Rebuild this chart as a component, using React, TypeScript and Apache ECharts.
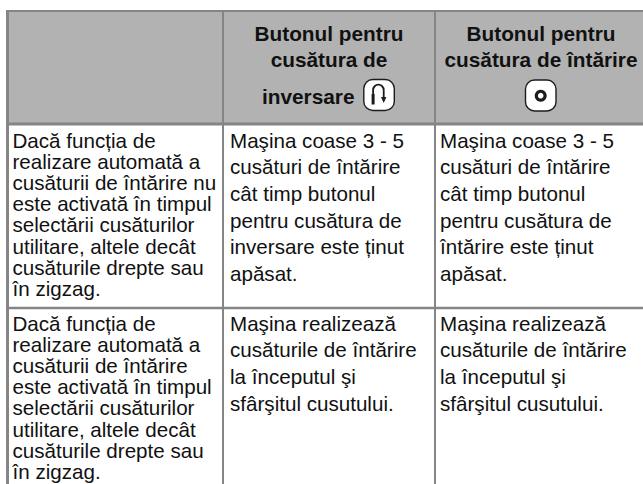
import React, { useEffect, useRef } from "react";
import * as echarts from "echarts";

const headerCol2 = ["Butonul pentru", "cusătura de"];
const headerCol2Last = "inversare";
const headerCol3 = ["Butonul pentru", "cusătura de întărire"];

const row1Col1 = ["Dacă funcția de", "realizare automată a", "cusăturii de întărire nu", "este activată în timpul", "selectării cusăturilor", "utilitare, altele decât", "cusăturile drepte sau", "în zigzag."];
const row1Col2 = ["Maşina coase 3 - 5", "cusături de întărire", "cât timp butonul", "pentru cusătura de", "inversare este ținut", "apăsat."];
const row1Col3 = ["Maşina coase 3 - 5", "cusături de întărire", "cât timp butonul", "pentru cusătura de", "întărire este ținut", "apăsat."];
const row2Col1 = ["Dacă funcția de", "realizare automată a", "cusăturii de întărire", "este activată în timpul", "selectării cusăturilor", "utilitare, altele decât", "cusăturile drepte sau", "în zigzag."];
const row2Col2 = ["Maşina realizează", "cusăturile de întărire", "la începutul şi", "sfârşitul cusutului."];
const row2Col3 = ["Maşina realizează", "cusăturile de întărire", "la începutul şi", "sfârşitul cusutului."];

const FONT = '"Liberation Sans", Arial, sans-serif';
const BORDER = "#858585";
const HEAD = "#b2b2b2";
const INK = "#111111";
const ICON = "#1c1c1c";

function bodyLines(lines: string[], x: number, y0: number, pitch: number) {
  return lines.map((t, i) => ({
    type: "text",
    x,
    y: y0 + i * pitch,
    style: { text: t, fill: INK, font: `20.6px ${FONT}`, verticalAlign: "middle", align: "left" },
  }));
}

function headLine(t: string, x: number, y: number, align = "center") {
  return {
    type: "text",
    x,
    y,
    style: { text: t, fill: INK, font: `bold 20.8px ${FONT}`, verticalAlign: "middle", align },
  };
}

function rule(x1: number, y1: number, x2: number, y2: number, w = 2) {
  return { type: "line", shape: { x1, y1, x2, y2 }, style: { stroke: BORDER, lineWidth: w } };
}

function iconBox(x: number, y: number) {
  return {
    type: "rect",
    shape: { x, y, width: 30.5, height: 31, r: 9 },
    style: { fill: "#ffffff", stroke: ICON, lineWidth: 1.4 },
  };
}

export default function App() {
  const ref = useRef<HTMLDivElement>(null);
  useEffect(() => {
    const chart = echarts.init(ref.current!, undefined, { renderer: "svg" });
    const elements: any[] = [
      { type: "rect", shape: { x: 6, y: 10, width: 637, height: 115 }, style: { fill: HEAD } },
      rule(6, 11, 643, 11, 2),
      rule(7.5, 10, 7.5, 484, 3),
      rule(6, 124, 643, 124, 3),
      rule(6, 308, 643, 308, 2.5),
      rule(223, 11, 223, 484, 2),
      rule(435, 11, 435, 484, 2),
      headLine(headerCol2[0], 329, 33),
      headLine(headerCol2[1], 329, 59),
      headLine(headerCol2Last, 262, 96, "left"),
      headLine(headerCol3[0], 541, 33),
      headLine(headerCol3[1], 541, 59),
      iconBox(363.8, 79.5),
      { type: "arc", shape: { cx: 378.4, cy: 90, r: 5.3, startAngle: Math.PI, endAngle: 0, clockwise: true }, style: { stroke: ICON, fill: "none", lineWidth: 1.8 } },
      { type: "line", shape: { x1: 373.1, y1: 90, x2: 373.1, y2: 94 }, style: { stroke: ICON, lineWidth: 1.8 } },
      { type: "line", shape: { x1: 373.1, y1: 94, x2: 373.1, y2: 104.5 }, style: { stroke: ICON, lineWidth: 3 } },
      { type: "line", shape: { x1: 383.7, y1: 90, x2: 383.7, y2: 98 }, style: { stroke: ICON, lineWidth: 1.8 } },
      { type: "polygon", shape: { points: [[381, 97], [386.4, 97], [383.7, 103]] }, style: { fill: ICON } },
      iconBox(525.5, 80),
      { type: "ring", shape: { cx: 540.7, cy: 95.7, r: 6, r0: 2.8 }, style: { fill: ICON } },
      ...bodyLines(row1Col1, 12.5, 140, 21.2),
      ...bodyLines(row1Col2, 230, 140, 26.7),
      ...bodyLines(row1Col3, 440, 140, 26.7),
      ...bodyLines(row2Col1, 12.5, 323, 21.2),
      ...bodyLines(row2Col2, 230, 323, 26.7),
      ...bodyLines(row2Col3, 440, 323, 26.7),
    ];
    chart.setOption({ animation: false, backgroundColor: "#ffffff", graphic: { elements } });
    return () => chart.dispose();
  }, []);
  return <div ref={ref} style={{ position: "fixed", left: 0, top: 0, width: 643, height: 484 }} />;
}
